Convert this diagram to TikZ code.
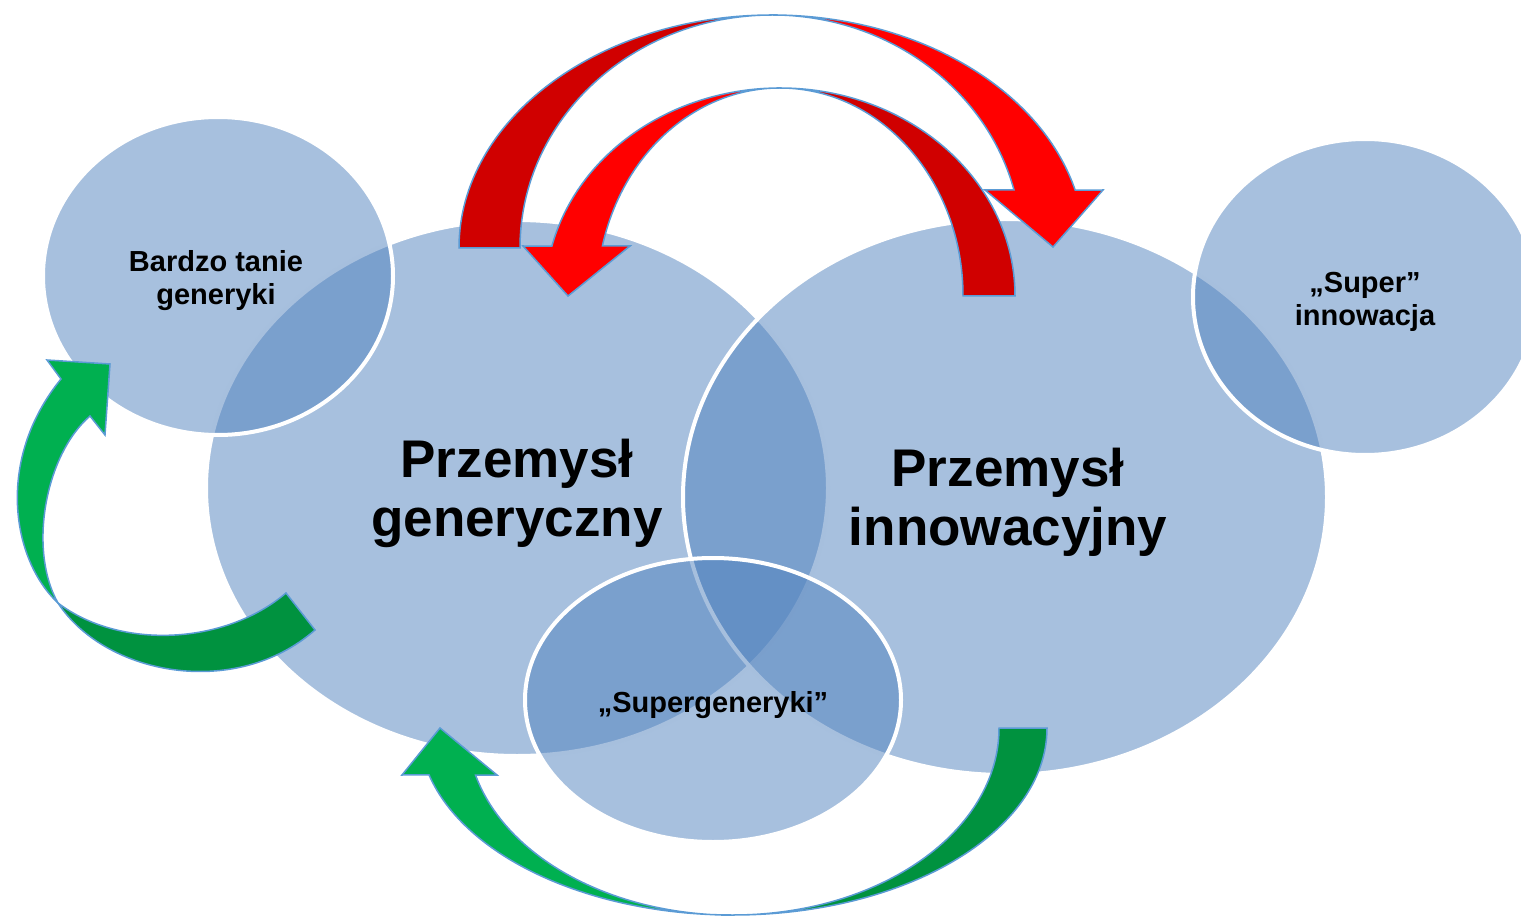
\documentclass[tikz,border=0pt]{standalone}
\usepackage{fontspec}
\setmainfont{Liberation Sans}
\usetikzlibrary{shapes.geometric}
\definecolor{bubbleblue}{HTML}{4F81BD}
\definecolor{rimblue}{HTML}{5B9BD5}
\definecolor{darkred}{HTML}{D00000}
\definecolor{lightgreen}{HTML}{00B050}
\definecolor{darkgreen}{HTML}{00923F}
\tikzset{bubble/.style={ellipse,fill=bubbleblue,fill opacity=0.5,draw=white,line width=4pt,inner sep=0pt}}
\tikzset{bigtext/.style={align=center,yshift=-5pt,font=\fontsize{53}{59}\selectfont\bfseries}}
\tikzset{smalltext/.style={align=center,yshift=-5pt,font=\fontsize{29}{33}\selectfont\bfseries}}
\tikzset{blockarrow/.style={draw=rimblue,line width=1.5pt,line join=miter}}

\begin{document}
\begin{tikzpicture}[x=1pt,y=-1pt]
        \useasboundingbox (0,0) rectangle (1521,917);
        \clip (0,0) rectangle (1521,917);

        \node[bubble,minimum width=622pt,minimum height=536pt] (generyczny) at (517,488) {};
        \node[bubble,minimum width=350pt,minimum height=318pt] (tanie) at (218,276) {};
        \node[bubble,minimum width=644pt,minimum height=556pt] (innowacyjny) at (1005,497) {};
        \node[bubble,minimum width=344pt,minimum height=316pt] (superinn) at (1365,297) {};
        \node[bubble,minimum width=376pt,minimum height=284pt] (supergen) at (713,700) {};

        \node[bigtext] (generyczny-label) at (generyczny) {Przemysł\\generyczny};
        \node[bigtext,xshift=3pt] (innowacyjny-label) at (innowacyjny) {Przemysł\\innowacyjny};
        \node[smalltext,xshift=-2pt] (tanie-label) at (tanie) {Bardzo tanie\\generyki};
        \node[smalltext] (superinn-label) at (superinn) {„Super”\\innowacja};
        \node[smalltext] (supergen-label) at (supergen) {„Supergeneryki”};

        \draw[blockarrow,fill=darkred] (1015,296) arc[start angle=360,end angle=270,x radius=235,y radius=208]
            arc[start angle=270,end angle=360,x radius=183,y radius=208] -- cycle;
        \draw[blockarrow,fill=red] (780,88) arc[start angle=270,end angle=193.9,x radius=235,y radius=208]
            -- (523,246) -- (568,296) -- (630,246) -- (602.4,246)
            arc[start angle=193.9,end angle=270,x radius=183,y radius=208] -- cycle;

        \draw[blockarrow,fill=darkred] (459,248) arc[start angle=180,end angle=270,x radius=313,y radius=233]
            arc[start angle=270,end angle=180,x radius=252,y radius=233] -- cycle;
        \draw[blockarrow,fill=red] (772,15) arc[start angle=270,end angle=345.6,x radius=313,y radius=233]
            -- (1103,190) -- (1053,247) -- (985,190) -- (1014,190)
            arc[start angle=345.6,end angle=270,x radius=250,y radius=233] -- cycle;

        \draw[blockarrow,fill=darkgreen] (1047,728) arc[start angle=0,end angle=90,x radius=314,y radius=187]
            arc[start angle=90,end angle=0,x radius=266,y radius=187] -- cycle;
        \draw[blockarrow,fill=lightgreen] (733,915) arc[start angle=90,end angle=165.5,x radius=314,y radius=187]
            -- (402,775) -- (440,728) -- (497,775) -- (475.5,775)
            arc[start angle=165.5,end angle=90,x radius=266,y radius=187] -- cycle;

        \draw[blockarrow,fill=darkgreen] (58,603) .. controls (105,675) and (235,700) .. (315,630)
            -- (286,593) .. controls (225,645) and (120,650) .. (58,603) -- cycle;
        \draw[blockarrow,fill=lightgreen] (58,603) .. controls (12,560) and (-5,460) .. (61,379)
            -- (47,360) -- (110,364) -- (105,435) -- (90,416) .. controls (45,455) and (28,550) .. (58,603) -- cycle;
\end{tikzpicture}
\end{document}
